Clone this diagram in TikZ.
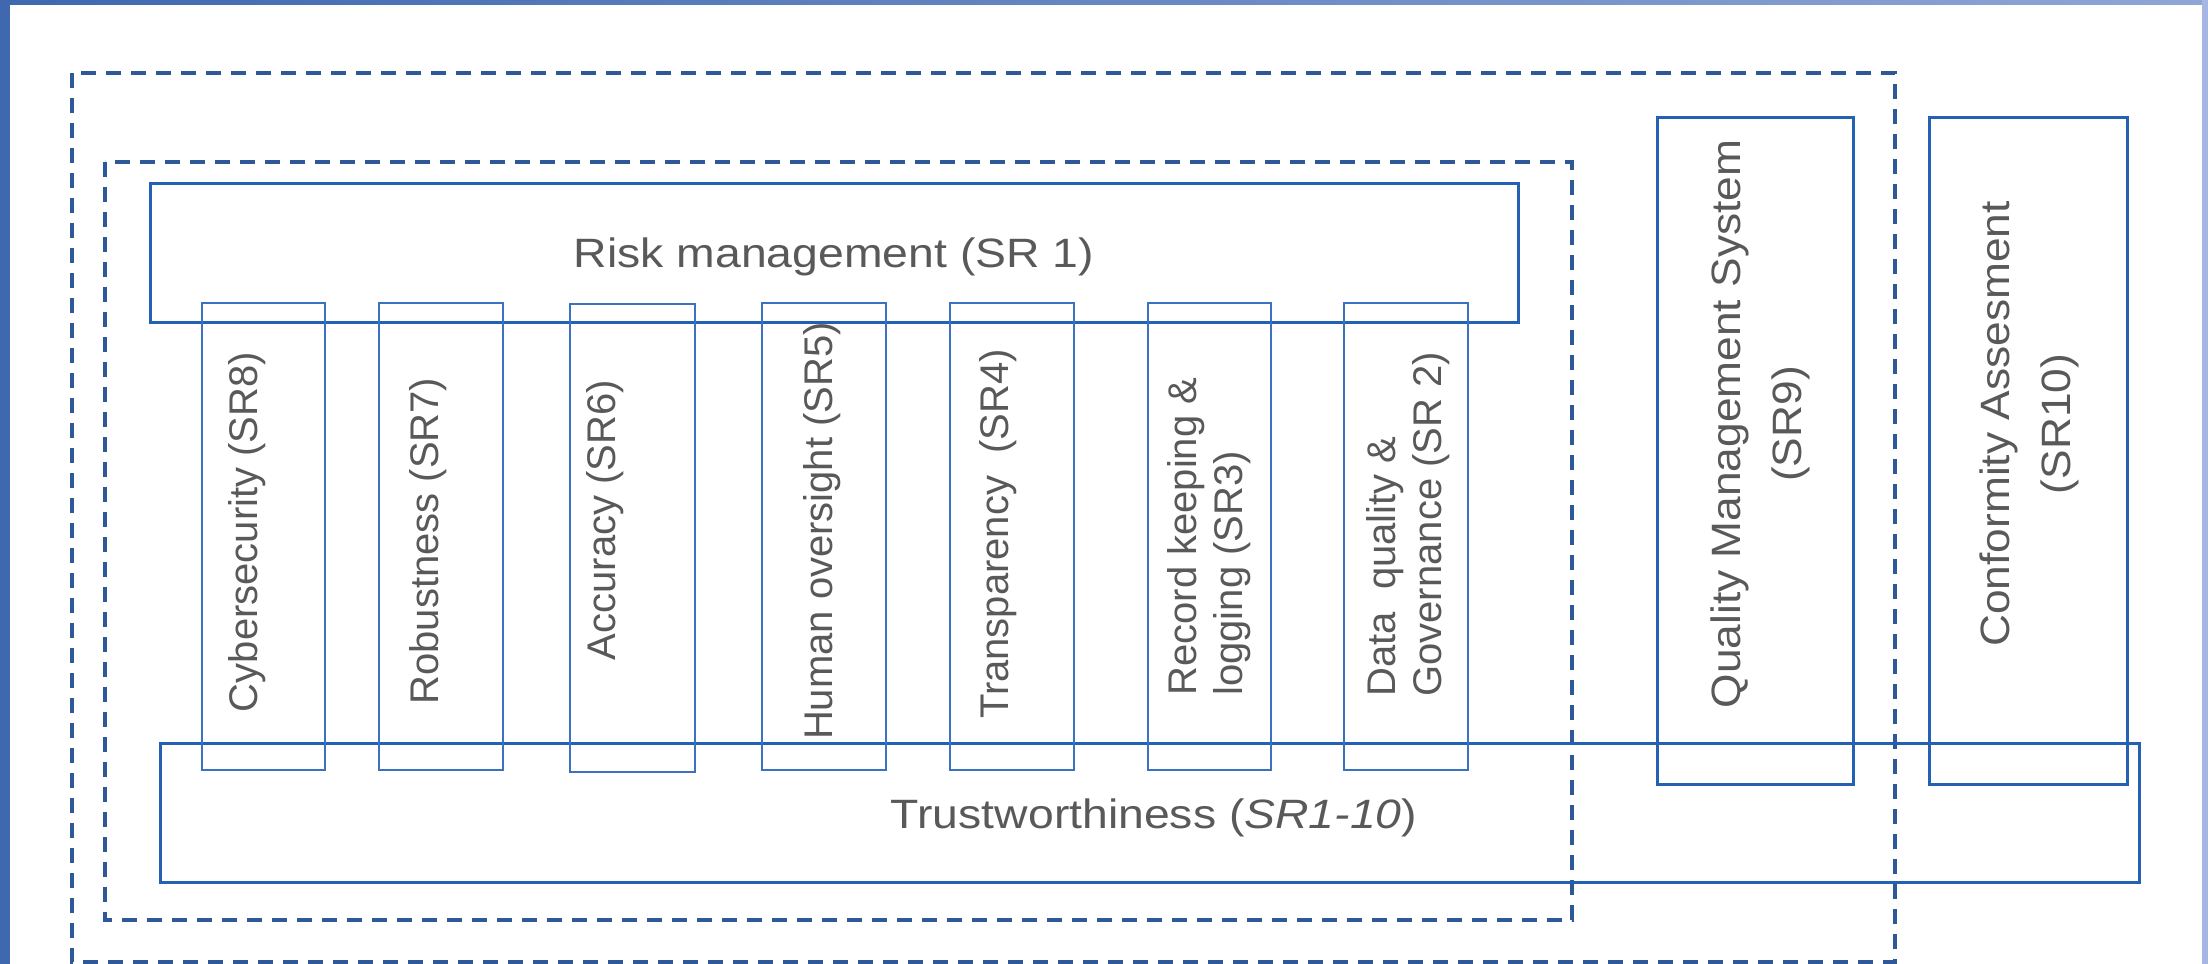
\documentclass[tikz,border=0pt]{standalone}
\usepackage{fontspec}
\setmainfont{Liberation Sans}
\usepackage{graphicx}
\definecolor{framedark}{HTML}{3F68AF}
\definecolor{framelight}{HTML}{8FA6D6}
\definecolor{frameright}{HTML}{A7B6E2}
\definecolor{boxblue}{HTML}{2461B2}
\definecolor{boxblue2}{HTML}{3A72C2}
\definecolor{dashblue}{HTML}{2F5898}
\definecolor{txtgray}{HTML}{595959}
\begin{document}
\begin{tikzpicture}[x=0.5pt,y=-0.5pt,
  bigbox/.style={draw=boxblue, line width=1.5pt},
  smallbox/.style={draw=boxblue2, line width=1.2pt},
  dashbox/.style={draw=dashblue, line width=1.8pt, dash pattern=on 7.5pt off 5pt},
  htext/.style={text=txtgray, font=\fontsize{20.5}{24}\selectfont, inner sep=0pt},
  btext/.style={text=txtgray, font=\fontsize{20.5}{30.5}\selectfont, inner sep=0pt, rotate=90},
  vtext/.style={text=txtgray, font=\fontsize{20}{23}\selectfont, inner sep=0pt, rotate=90}]
\useasboundingbox (0,0) rectangle (2208,964);
\fill[white] (0,0) rectangle (2208,964);
% screenshot frame
\fill[framedark] (0,0) rectangle (10,964);
\shade[left color=framedark, right color=framelight] (0,0) rectangle (2208,4);
\fill[frameright] (2202,0) rectangle (2208,964);
% dashed groups
\draw[dashbox] (72,73) rectangle (1895,962);
\draw[dashbox] (105,162) rectangle (1572,920);
% big boxes
\draw[bigbox] (150,183) rectangle (1518,322);
\draw[bigbox] (160,743) rectangle (2139,882);
\draw[bigbox] (1657,117) rectangle (1853,784);
\draw[bigbox] (1929,117) rectangle (2127,784);
% small boxes
\draw[smallbox] (202,303) rectangle (325,770);
\draw[smallbox] (379,303) rectangle (503,770);
\draw[smallbox] (570,304) rectangle (695,772);
\draw[smallbox] (762,303) rectangle (886,770);
\draw[smallbox] (950,303) rectangle (1074,770);
\draw[smallbox] (1148,303) rectangle (1271,770);
\draw[smallbox] (1344,303) rectangle (1468,770);
% texts
\node[htext] (risk) at (834,257) {\scalebox{1.13}[1]{Risk management (SR 1)}};
\node[htext] (trust) at (1154,818) {\scalebox{1.13}[1]{Trustworthiness (\textit{SR1-10})}};
\node[vtext] (sr8) at (247,532) {Cybersecurity (SR8)};
\node[vtext] (sr7) at (428,541) {Robustness (SR7)};
\node[vtext] (sr6) at (605,520) {Accuracy (SR6)};
\node[vtext] (sr5) at (822,531) {Human oversight (SR5)};
\node[vtext] (sr4) at (998,534) {Transparency\ \ (SR4)};
\node[vtext, align=left, anchor=west] (sr3) at (1209,696) {Record keeping \&\\logging (SR3)};
\node[vtext, align=left, anchor=west] (sr2) at (1408,697) {Data\ \ quality \&\\Governance (SR 2)};
\node[btext, align=center] (sr9) at (1760,424) {\scalebox{1.08}[1]{Quality Management System}\\\scalebox{1.08}[1]{(SR9)}};
\node[btext, align=center] (sr10) at (2029,424) {\scalebox{1.08}[1]{Conformity Assesment}\\\scalebox{1.08}[1]{(SR10)}};
\end{tikzpicture}
\end{document}
